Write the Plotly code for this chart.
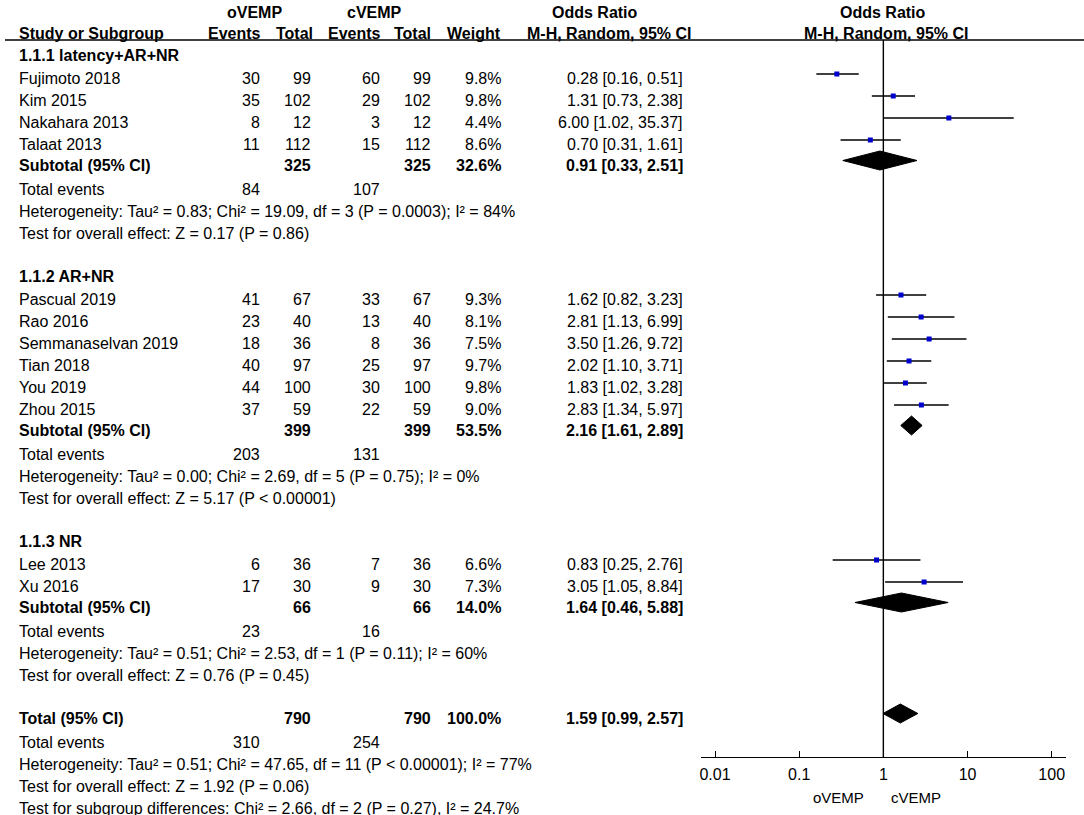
import plotly.graph_objects as go

# ---------------- data ----------------
group_labels = ["1.1.1 latency+AR+NR", "1.1.2 AR+NR", "1.1.3 NR"]

study_names = ["Fujimoto 2018", "Kim 2015", "Nakahara 2013", "Talaat 2013",
               "Pascual 2019", "Rao 2016", "Semmanaselvan 2019", "Tian 2018", "You 2019", "Zhou 2015",
               "Lee 2013", "Xu 2016"]
study_group = [0, 0, 0, 0, 1, 1, 1, 1, 1, 1, 2, 2]
ov_events = [30, 35, 8, 11, 41, 23, 18, 40, 44, 37, 6, 17]
ov_total = [99, 102, 12, 112, 67, 40, 36, 97, 100, 59, 36, 30]
cv_events = [60, 29, 3, 15, 33, 13, 8, 25, 30, 22, 7, 9]
cv_total = [99, 102, 12, 112, 67, 40, 36, 97, 100, 59, 36, 30]
weights = [9.8, 9.8, 4.4, 8.6, 9.3, 8.1, 7.5, 9.7, 9.8, 9.0, 6.6, 7.3]
or_est = [0.28, 1.31, 6.00, 0.70, 1.62, 2.81, 3.50, 2.02, 1.83, 2.83, 0.83, 3.05]
or_lo = [0.16, 0.73, 1.02, 0.31, 0.82, 1.13, 1.26, 1.10, 1.02, 1.34, 0.25, 1.05]
or_hi = [0.51, 2.38, 35.37, 1.61, 3.23, 6.99, 9.72, 3.71, 3.28, 5.97, 2.76, 8.84]

sub_ov_total = [325, 399, 66]
sub_cv_total = [325, 399, 66]
sub_weight = [32.6, 53.5, 14.0]
sub_or = [0.91, 2.16, 1.64]
sub_lo = [0.33, 1.61, 0.46]
sub_hi = [2.51, 2.89, 5.88]
sub_ev_ov = [84, 203, 23]
sub_ev_cv = [107, 131, 16]
sub_het = ["Heterogeneity: Tau² = 0.83; Chi² = 19.09, df = 3 (P = 0.0003); I² = 84%",
           "Heterogeneity: Tau² = 0.00; Chi² = 2.69, df = 5 (P = 0.75); I² = 0%",
           "Heterogeneity: Tau² = 0.51; Chi² = 2.53, df = 1 (P = 0.11); I² = 60%"]
sub_test = ["Test for overall effect: Z = 0.17 (P = 0.86)",
            "Test for overall effect: Z = 5.17 (P < 0.00001)",
            "Test for overall effect: Z = 0.76 (P = 0.45)"]

tot_ov_total = 790
tot_cv_total = 790
tot_weight = 100.0
tot_or, tot_lo, tot_hi = 1.59, 0.99, 2.57
tot_ev_ov, tot_ev_cv = 310, 254
tot_het = "Heterogeneity: Tau² = 0.51; Chi² = 47.65, df = 11 (P < 0.00001); I² = 77%"
tot_test = "Test for overall effect: Z = 1.92 (P = 0.06)"
tot_subgroup = "Test for subgroup differences: Chi² = 2.66, df = 2 (P = 0.27), I² = 24.7%"

tick_vals = [0.01, 0.1, 1, 10, 100]
tick_text = ["0.01", "0.1", "1", "10", "100"]
favours = ["oVEMP", "cVEMP"]

# ---------------- layout helpers ----------------
W, H = 1084, 815
FONT = "Liberation Sans, Arial, sans-serif"
FS = 16
MARK_OFF = 4.5
DIA_H = 9.5

col_ov_ev, col_ov_tot, col_cv_ev, col_cv_tot, col_w, col_or = 262, 313, 382, 433, 503, 685
left_x = 17

annotations = []


def txt(x, y, s, anchor="left", bold=False, size=FS):
    annotations.append(dict(x=x, y=y, xref="x", yref="y", text=(f"<b>{s}</b>" if bold else s),
                            showarrow=False, xanchor=anchor, yanchor="middle",
                            font=dict(family=FONT, size=size, color="black")))


def fmt_or(e, l, h):
    return f"{e:.2f} [{l:.2f}, {h:.2f}]"


# header
txt(254, 12, "oVEMP", "center", True)
txt(374, 12, "cVEMP", "center", True)
txt(595, 12, "Odds Ratio", "center", True)
txt(883, 12, "Odds Ratio", "center", True)
txt(left_x, 33, "Study or Subgroup", "left", True)
txt(col_ov_ev + 1, 33, "Events", "right", True)
txt(col_ov_tot + 2, 33, "Total", "right", True)
txt(col_cv_ev + 1, 33, "Events", "right", True)
txt(col_cv_tot, 33, "Total", "right", True)
txt(col_w, 33, "Weight", "right", True)
txt(609, 33, "M-H, Random, 95% CI", "center", True)
txt(886, 33, "M-H, Random, 95% CI", "center", True)

sq_x, sq_y = [], []
ci_x, ci_y = [], []
dia_x, dia_y = [], []

y = 55
for g, glabel in enumerate(group_labels):
    txt(left_x, y, glabel, "left", True)
    idx = [i for i, sg in enumerate(study_group) if sg == g]
    y += 23.5
    for k, i in enumerate(idx):
        if k > 0:
            y += 22
        txt(left_x, y, study_names[i])
        txt(col_ov_ev, y, str(ov_events[i]), "right")
        txt(col_ov_tot, y, str(ov_total[i]), "right")
        txt(col_cv_ev, y, str(cv_events[i]), "right")
        txt(col_cv_tot, y, str(cv_total[i]), "right")
        txt(col_w, y, f"{weights[i]:.1f}%", "right")
        txt(col_or, y, fmt_or(or_est[i], or_lo[i], or_hi[i]), "right")
        my = y - MARK_OFF
        sq_x.append(or_est[i]); sq_y.append(my)
        ci_x += [or_lo[i], or_hi[i], None]; ci_y += [my, my, None]
    y += 20.5
    txt(left_x, y, "Subtotal (95% CI)", "left", True)
    txt(col_ov_tot, y, str(sub_ov_total[g]), "right", True)
    txt(col_cv_tot, y, str(sub_cv_total[g]), "right", True)
    txt(col_w, y, f"{sub_weight[g]:.1f}%", "right", True)
    txt(col_or, y, fmt_or(sub_or[g], sub_lo[g], sub_hi[g]), "right", True)
    dy = y - MARK_OFF
    dia_x.append([sub_lo[g], sub_or[g], sub_hi[g], sub_or[g], sub_lo[g]])
    dia_y.append([dy, dy - DIA_H, dy, dy + DIA_H, dy])
    y += 24
    txt(left_x, y, "Total events")
    txt(col_ov_ev, y, str(sub_ev_ov[g]), "right")
    txt(col_cv_ev, y, str(sub_ev_cv[g]), "right")
    y += 22
    txt(left_x, y, sub_het[g])
    y += 22
    txt(left_x, y, sub_test[g])
    y += 43

# overall
txt(left_x, y, "Total (95% CI)", "left", True)
txt(col_ov_tot, y, str(tot_ov_total), "right", True)
txt(col_cv_tot, y, str(tot_cv_total), "right", True)
txt(col_w, y, f"{tot_weight:.1f}%", "right", True)
txt(col_or, y, fmt_or(tot_or, tot_lo, tot_hi), "right", True)
dy = y - MARK_OFF
dia_x.append([tot_lo, tot_or, tot_hi, tot_or, tot_lo])
dia_y.append([dy, dy - DIA_H, dy, dy + DIA_H, dy])
y += 24
txt(left_x, y, "Total events")
txt(col_ov_ev, y, str(tot_ev_ov), "right")
txt(col_cv_ev, y, str(tot_ev_cv), "right")
y += 22
txt(left_x, y, tot_het)
y += 22
txt(left_x, y, tot_test)
y += 22
txt(left_x, y, tot_subgroup)

# favours labels
txt(866, 797, favours[0], "right", False, 15)
txt(889, 797, favours[1], "left", False, 15)

AXIS_Y = 757
HEAD_LINE_Y = 40

fig = go.Figure()

# header rule
fig.add_trace(go.Scatter(x=[5, W], y=[HEAD_LINE_Y, HEAD_LINE_Y], mode="lines",
                         line=dict(color="black", width=1.4), xaxis="x", yaxis="y",
                         hoverinfo="skip", showlegend=False))
# line of no effect
fig.add_trace(go.Scatter(x=[1, 1], y=[HEAD_LINE_Y, AXIS_Y], mode="lines",
                         line=dict(color="black", width=1.4), xaxis="x2", yaxis="y",
                         hoverinfo="skip", showlegend=False))
# CIs
fig.add_trace(go.Scatter(x=ci_x, y=ci_y, mode="lines", line=dict(color="black", width=1.4),
                         xaxis="x2", yaxis="y", hoverinfo="skip", showlegend=False))
# squares
fig.add_trace(go.Scatter(x=sq_x, y=sq_y, mode="markers",
                         marker=dict(symbol="square", size=5, color="#0000CC", line=dict(width=0)),
                         xaxis="x2", yaxis="y", hoverinfo="skip", showlegend=False))
# diamonds
for dx, dyy in zip(dia_x, dia_y):
    fig.add_trace(go.Scatter(x=dx, y=dyy, mode="lines", fill="toself", fillcolor="black",
                             line=dict(color="black", width=1), xaxis="x2", yaxis="y",
                             hoverinfo="skip", showlegend=False))

fig.update_layout(
    width=W, height=H, margin=dict(l=0, r=0, t=0, b=0),
    paper_bgcolor="white", plot_bgcolor="rgba(0,0,0,0)", showlegend=False,
    annotations=annotations,
    xaxis=dict(range=[0, W], visible=False, domain=[0, 1], fixedrange=True),
    yaxis=dict(range=[H, 0], visible=False, domain=[0, 1], fixedrange=True),
    xaxis2=dict(type="log", domain=[700.7 / W, 1066 / W], range=[-2.17, 2.17],
                anchor="free", position=1 - AXIS_Y / H,
                showgrid=False, zeroline=False, showline=True, linecolor="black", linewidth=1.4,
                ticks="inside", ticklen=6, tickwidth=1.4, tickcolor="black",
                tickvals=tick_vals, ticktext=tick_text, ticklabelstandoff=3,
                tickfont=dict(family=FONT, size=16, color="black"), fixedrange=True),
)

fig.write_html("out.html", post_script="document.body.style.margin='0';",
               config={"displayModeBar": False})
